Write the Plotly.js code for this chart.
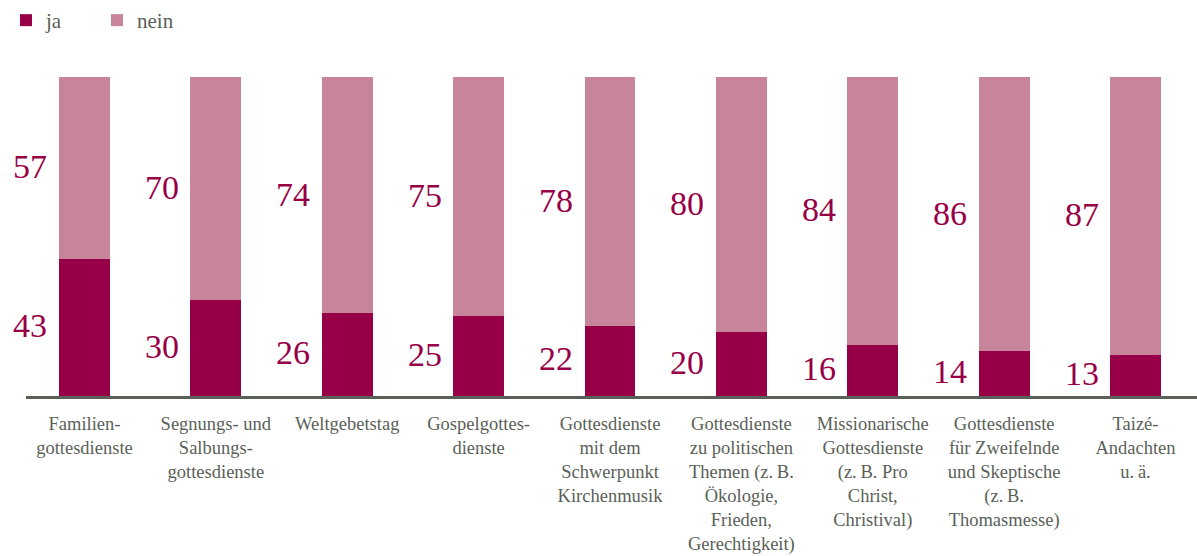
<!DOCTYPE html>
<html><head><meta charset="utf-8">
<script src="https://cdn.plot.ly/plotly-3.0.1.min.js"></script>
<style>body{margin:0;background:#fff}#chart{width:1197px;height:556px}</style>
</head><body><div id="chart"></div>
<script>
const categories = [
  "Familien-<br>gottesdienste",
  "Segnungs- und<br>Salbungs-<br>gottesdienste",
  "Weltgebetstag",
  "Gospelgottes-<br>dienste",
  "Gottesdienste<br>mit dem<br>Schwerpunkt<br>Kirchenmusik",
  "Gottesdienste<br>zu politischen<br>Themen (z.\u202fB.<br>Ökologie,<br>Frieden,<br>Gerechtigkeit)",
  "Missionarische<br>Gottesdienste<br>(z.\u202fB. Pro<br>Christ,<br>Christival)",
  "Gottesdienste<br>für Zweifelnde<br>und Skeptische<br>(z.\u202fB.<br>Thomasmesse)",
  "Taizé-<br>Andachten<br>u.\u202fä."
];
const ja   = [43, 30, 26, 25, 22, 20, 16, 14, 13];
const nein = [57, 70, 74, 75, 78, 80, 84, 86, 87];

const cJa = "#970046", cNein = "#c7849a", cText = "#5a5f57";
const xIdx = categories.map((_, i) => i);

const traces = [
  {type: "bar", name: "ja", x: xIdx, y: ja, marker: {color: cJa}, width: 0.388, hoverinfo: "skip"},
  {type: "bar", name: "nein", x: xIdx, y: nein, marker: {color: cNein}, width: 0.388, hoverinfo: "skip"}
];

const annotations = [];
xIdx.forEach(i => {
  annotations.push({x: i, y: ja[i] / 2, text: String(ja[i]), showarrow: false,
    xanchor: "right", yanchor: "middle", xshift: -35, yshift: 2,
    font: {family: "Liberation Serif", size: 34, color: cJa}});
  annotations.push({x: i, y: ja[i] + nein[i] / 2, text: String(nein[i]), showarrow: false,
    xanchor: "right", yanchor: "middle", xshift: -35, yshift: 1,
    font: {family: "Liberation Serif", size: 34, color: cJa}});
});

const layout = {
  width: 1197, height: 556,
  margin: {l: 26, r: 0, t: 77, b: 160},
  barmode: "stack",
  paper_bgcolor: "#fff", plot_bgcolor: "#fff",
  showlegend: true,
  legend: {orientation: "h", xref: "container", yref: "container", x: 6 / 1197, y: 1,
    xanchor: "left", yanchor: "top", traceorder: "normal",
    font: {family: "Liberation Serif", size: 21, color: cText},
    entrywidth: 46, itemwidth: 30},
  xaxis: {type: "linear", range: [-0.445, 8.468], tickmode: "array", tickvals: xIdx,
    ticktext: categories, tickangle: 0, showgrid: false, zeroline: false,
    showline: true, linecolor: cText, linewidth: 2.5,
    ticks: "outside", ticklen: 9, tickcolor: "rgba(0,0,0,0)",
    tickfont: {family: "Liberation Serif", size: 18.5, color: cText}, fixedrange: true},
  yaxis: {range: [0, 100], visible: false, showgrid: false, zeroline: false, fixedrange: true},
  annotations: annotations
};

Plotly.newPlot("chart", traces, layout, {displayModeBar: false, staticPlot: true});
</script></body></html>
